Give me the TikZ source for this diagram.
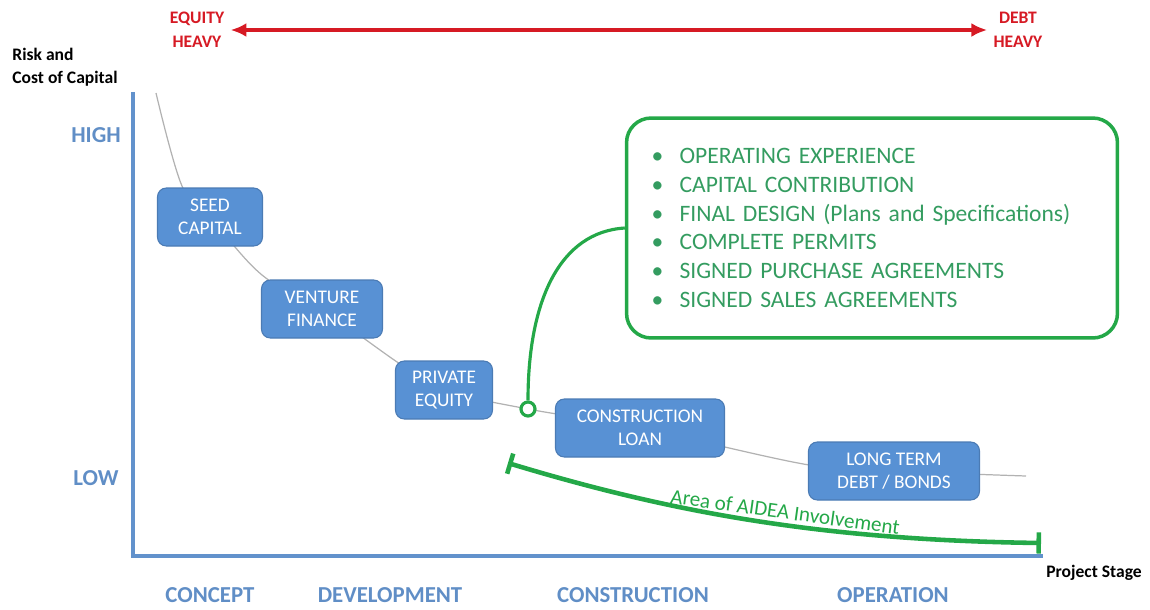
\documentclass[tikz,border=0pt]{standalone}
\usepackage{fontspec}
\setmainfont{Carlito}
\usepackage{xcolor}
\usepackage{tikz}
\usetikzlibrary{arrows.meta}
\definecolor{axisblue}{RGB}{98,146,204}
\definecolor{boxblue}{RGB}{88,145,212}
\definecolor{stageblue}{RGB}{96,142,198}
\definecolor{aideagreen}{RGB}{36,168,72}
\definecolor{listgreen}{RGB}{52,156,96}
\definecolor{heavyred}{RGB}{214,26,36}
\tikzset{every picture/.style={line width=0.75pt}}
\tikzset{
  stagebox/.style={draw=boxblue!85!black, line width=0.6pt, fill=boxblue, rounded corners=5pt,
    text=white, align=center, font=\fontsize{11}{13}\selectfont, minimum height=1.16cm},
  level/.style={text=stageblue, font=\fontsize{13}{15}\selectfont\bfseries},
  stagename/.style={text=stageblue, font=\fontsize{13}{15}\selectfont\bfseries},
  heavy/.style={text=heavyred, align=center, font=\fontsize{10}{13.5}\selectfont\bfseries},
  axislabel/.style={align=left, font=\fontsize{10}{13}\selectfont\bfseries}
}
\begin{document}
\begin{tikzpicture}[x=0.02cm, y=-0.02cm]
\useasboundingbox (0,0) rectangle (1150,609);
% cost curve
\draw[gray!60, line width=0.7pt] plot[smooth, tension=0.6] coordinates {(156,93) (182,186) (210,217) (262,275) (322,309) (400,364) (443,390) (528,409) (640,428) (809,465) (894,471) (1026,476)};
% axes
\coordinate (ytop) at (133,92);
\coordinate (xend) at (1043,556);
\draw[axisblue, line width=2.2pt] (ytop) |- (xend);
\node[axislabel] (risk) at (65,67) {Risk and\\Cost of Capital};
\node[axislabel] (proj) at (1094,573) {Project Stage};
\node[level] (high) at (96,135) {HIGH};
\node[level] (low) at (96,478) {LOW};
%
\node[heavy] (eq) at (197,30) {EQUITY\\HEAVY};
\node[heavy] (debt) at (1018,30) {DEBT\\HEAVY};
\draw[heavyred, line width=1.8pt, {Latex[length=9pt,width=8pt]}-{Latex[length=9pt,width=8pt]}] (eq) -- (debt);
% financing stages
\node[stagebox, minimum width=2.1cm] (seed) at (210,217) {SEED\\CAPITAL};
\node[stagebox, minimum width=2.42cm] (venture) at (322,309) {VENTURE\\FINANCE};
\node[stagebox, minimum width=1.94cm] (private) at (444,390) {PRIVATE\\EQUITY};
\node[stagebox, minimum width=3.38cm] (constr) at (640,428) {CONSTRUCTION\\LOAN};
\node[stagebox, minimum width=3.42cm] (longterm) at (894,471) {LONG TERM\\DEBT / BONDS};
% requirements
\node[draw=aideagreen, line width=2pt, rounded corners=14pt, minimum width=9.82cm, minimum height=4.4cm,
  inner xsep=0.5cm, text width=8.82cm, align=left, text=listgreen, font=\fontsize{13.4}{16.3}\selectfont] (req) at (872,228)
  {\makebox[16pt][l]{\textbullet}OPERATING EXPERIENCE\\
   \makebox[16pt][l]{\textbullet}CAPITAL CONTRIBUTION\\
   \makebox[16pt][l]{\textbullet}FINAL DESIGN (Plans and Specifications)\\
   \makebox[16pt][l]{\textbullet}COMPLETE PERMITS\\
   \makebox[16pt][l]{\textbullet}SIGNED PURCHASE AGREEMENTS\\
   \makebox[16pt][l]{\textbullet}SIGNED SALES AGREEMENTS};
\node[circle, draw=aideagreen, line width=1.8pt, fill=white, minimum size=0.28cm, inner sep=0pt] (pin) at (528,409) {};
\draw[aideagreen, line width=1.8pt] (pin.north) .. controls (528,300) and (560,232) .. (req.west);
% AIDEA area
\coordinate (areaA) at (508,463);
\coordinate (areaB) at (1041,543);
\draw[aideagreen, line width=2.6pt, {Bar[width=12pt]}-{Bar[width=12pt]}] (areaA) .. controls (670,512) and (820,540) .. (areaB)
  node[pos=0.56, sloped, above=1pt, inner sep=1pt, text=aideagreen, font=\fontsize{12}{14}\selectfont] (arealbl) {Area of AIDEA Involvement};
% project stages
\node[stagename] (concept) at (210,595) {CONCEPT};
\node[stagename] (develop) at (390,595) {DEVELOPMENT};
\node[stagename] (build) at (633,595) {CONSTRUCTION};
\node[stagename] (operate) at (893,595) {OPERATION};
\end{tikzpicture}
\end{document}
